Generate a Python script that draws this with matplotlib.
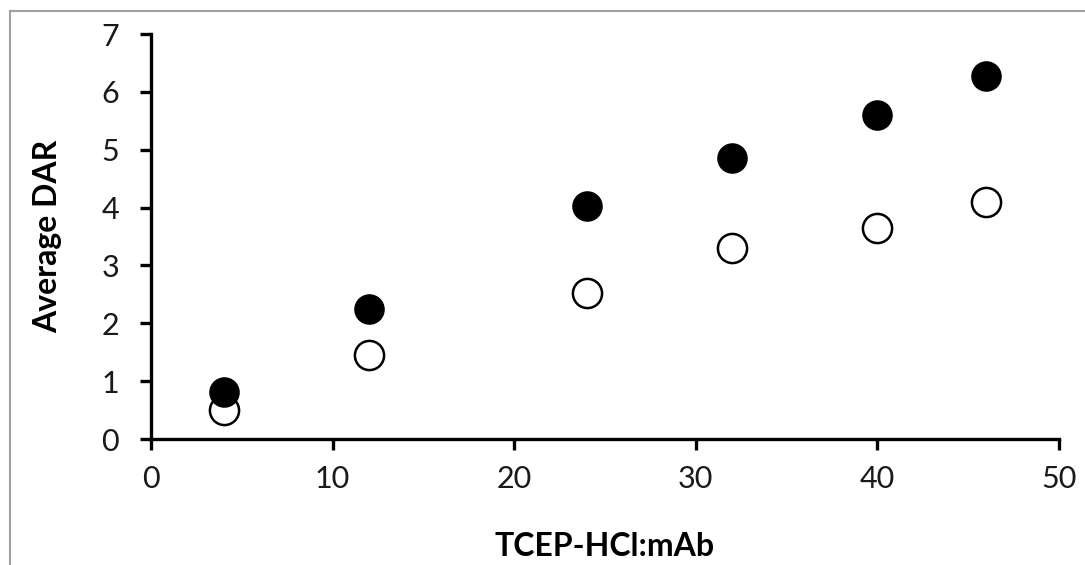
# Average DAR vs. TCEP-HCl:mAb ratio
import matplotlib
matplotlib.use("Agg")
import matplotlib.pyplot as plt
from matplotlib.lines import Line2D

# Data
ratio      = [4, 12, 24, 32, 40, 46]
dar_filled = [0.82, 2.25, 4.02, 4.85, 5.60, 6.27]
dar_open   = [0.50, 1.45, 2.52, 3.30, 3.65, 4.10]
xticks     = [0, 10, 20, 30, 40, 50]
yticks     = [0, 1, 2, 3, 4, 5, 6, 7]

plt.rcParams["font.family"] = ["Lato", "DejaVu Sans"]

fig = plt.figure(figsize=(10.85, 5.65), dpi=100)
ax = fig.add_axes([0.1392, 0.223, 0.8368, 0.7168])

ax.plot(ratio, dar_open, "o", ms=21, mfc="white", mec="black", mew=1.8,
        clip_on=False, zorder=3)
ax.plot(ratio, dar_filled, "o", ms=21, mfc="black", mec="black", mew=1.0,
        clip_on=False, zorder=4)

ax.set_xlim(0, 50)
ax.set_ylim(0, 7)
ax.set_xticks(xticks)
ax.set_yticks(yticks)
for s in ("top", "right"):
    ax.spines[s].set_visible(False)
for s in ("left", "bottom"):
    ax.spines[s].set_linewidth(2.4)
ax.tick_params(axis="both", direction="out", length=8, width=2.4,
               labelsize=22, labelcolor="#1a1a1a")
ax.tick_params(axis="x", pad=11)
ax.tick_params(axis="y", pad=15)

ax.set_xlabel("TCEP-HCl:mAb", fontsize=23, fontweight="bold", labelpad=28)
ax.set_ylabel("Average DAR", fontsize=23, fontweight="bold", labelpad=28)

# frame lines of the original picture (top and left only)
fig.add_artist(Line2D([10 / 1085, 10 / 1085], [0, 1 - 11 / 565],
                      transform=fig.transFigure, color="#a0a0a0", lw=1.5))
fig.add_artist(Line2D([10 / 1085, 1], [1 - 11 / 565, 1 - 11 / 565],
                      transform=fig.transFigure, color="#a0a0a0", lw=1.5))

fig.savefig("out.png", dpi=100)
